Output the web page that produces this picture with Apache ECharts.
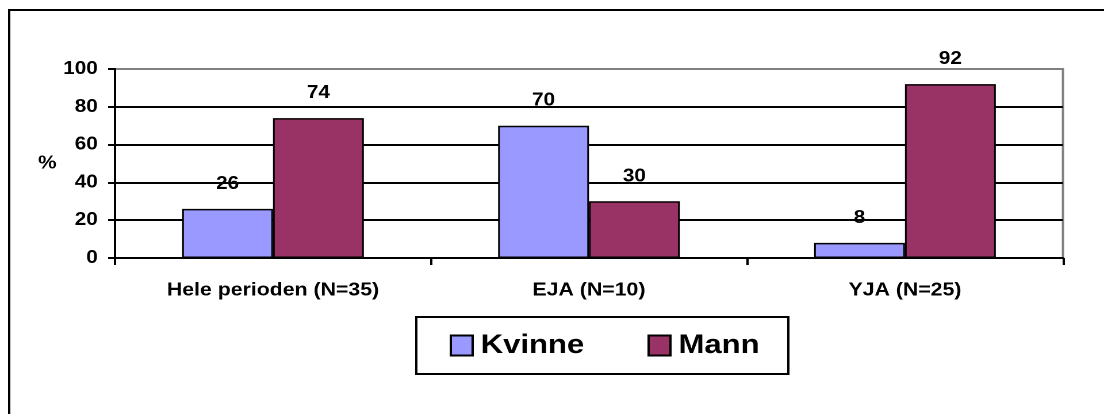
<!DOCTYPE html>
<html>
<head>
<meta charset="utf-8">
<script src="https://cdn.jsdelivr.net/npm/echarts@6/dist/echarts.min.js"></script>
<style>
  html, body { margin: 0; padding: 0; background: #fff; overflow: hidden; }
  /* the source chart is stretched sideways, so draw narrower and widen it */
  #chart { width: 960px; height: 414px; transform: scaleX(1.15); transform-origin: 0 0; }
</style>
</head>
<body>
<div id="chart"></div>
<script>
  // data
  var categories = ['Hele perioden (N=35)', 'EJA (N=10)', 'YJA (N=25)'];
  var kvinne = [26, 70, 8];
  var mann = [74, 30, 92];
  var seriesNames = ['Kvinne', 'Mann'];

  var chart = echarts.init(document.getElementById('chart'), null, { devicePixelRatio: 2 });
  var font = 'Arial, "Liberation Sans", sans-serif';

  var labelStyle = {
    show: true,
    position: 'top',
    distance: 16,
    color: '#000',
    fontFamily: font,
    fontWeight: 'bold',
    fontSize: 18
  };

  var option = {
    animation: false,
    backgroundColor: '#fff',
    // outer chart frame
    graphic: [{
      type: 'rect',
      shape: { x: 8, y: 10, width: 1000, height: 440 },
      style: { fill: 'none', stroke: '#000', lineWidth: 2 },
      z: 0
    }],
    grid: {
      left: 100, right: 35.7, top: 69, bottom: 156,
      show: true,
      borderColor: '#808080',
      borderWidth: 2,
      backgroundColor: 'transparent'
    },
    legend: {
      data: seriesNames,
      icon: 'rect',
      left: 362,
      top: 317,
      orient: 'horizontal',
      itemWidth: 19,
      itemHeight: 20,
      itemGap: 55,
      padding: [15, 25, 15, 29],
      borderColor: '#000',
      borderWidth: 2,
      backgroundColor: '#fff',
      textStyle: {
        color: '#000',
        fontFamily: font,
        fontWeight: 'bold',
        fontSize: 27,
        padding: [0, 0, 0, 2]
      },
      itemStyle: { borderColor: '#000', borderWidth: 2 }
    },
    xAxis: {
      type: 'category',
      data: categories,
      axisLine: { lineStyle: { color: '#000', width: 2 } },
      axisTick: { show: true, alignWithLabel: false, length: 7, lineStyle: { color: '#000', width: 2 } },
      axisLabel: {
        color: '#000',
        fontFamily: font,
        fontWeight: 'bold',
        fontSize: 18.5,
        margin: 23
      },
      splitLine: { show: false }
    },
    yAxis: {
      type: 'value',
      min: 0,
      max: 100,
      interval: 20,
      name: '%',
      nameLocation: 'middle',
      nameRotate: 0,
      nameGap: 43,
      nameTextStyle: { color: '#000', fontFamily: font, fontWeight: 'bold', fontSize: 18 },
      axisLine: { show: true, lineStyle: { color: '#000', width: 2 } },
      axisTick: { show: true, length: 6, lineStyle: { color: '#000', width: 2 } },
      axisLabel: {
        color: '#000',
        fontFamily: font,
        fontWeight: 'bold',
        fontSize: 18,
        margin: 15
      },
      splitLine: {
        show: true,
        lineStyle: { color: ['#000', '#000', '#000', '#000', '#000', '#808080'], width: 2 }
      }
    },
    series: [
      {
        name: seriesNames[0],
        type: 'bar',
        data: kvinne,
        barWidth: 79,
        barGap: '0%',
        itemStyle: { color: '#9999FF', borderColor: '#000', borderWidth: 1.5 },
        label: labelStyle
      },
      {
        name: seriesNames[1],
        type: 'bar',
        data: mann,
        barWidth: 79,
        barGap: '0%',
        itemStyle: { color: '#993366', borderColor: '#000', borderWidth: 1.5 },
        label: labelStyle
      }
    ]
  };

  chart.setOption(option);
</script>
</body>
</html>
